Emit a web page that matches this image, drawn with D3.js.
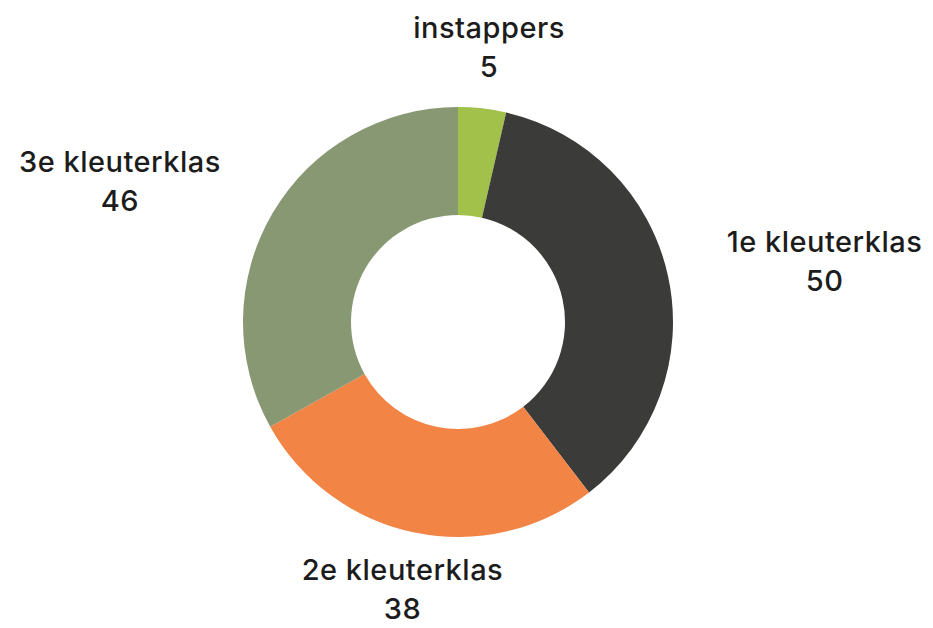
<!DOCTYPE html>
<html>
<head>
<meta charset="utf-8">
<script src="https://cdn.jsdelivr.net/npm/d3@7"></script>
<style>
  body { margin: 0; background: #fff; }
  .lbl { font-family: Inter, "Noto Sans", sans-serif; font-size: 29px; font-weight: 500; fill: #1c1c1c; letter-spacing: 0.5px; }
</style>
</head>
<body>
<div id="chart"></div>
<script>
(function () {
	"use strict";

	var categories = ["instappers", "1e kleuterklas", "2e kleuterklas", "3e kleuterklas"],
		values = [5, 50, 38, 46],
		colors = ["#a2c14a", "#3b3b39", "#f28446", "#879873"];

	var width = 933,
		height = 628,
		cx = 458,
		cy = 322,
		outerR = 215,
		innerR = 107,
		labelR = 275,
		lineGap = 39;

	var svg = d3.select("#chart").append("svg")
		.attr("width", width)
		.attr("height", height);

	var g = svg.append("g").attr("transform", "translate(" + cx + "," + cy + ")");

	var pie = d3.pie().sort(null).value(function (d) { return d.value; });
	var data = categories.map(function (c, i) { return { name: c, value: values[i], color: colors[i] }; });
	var arcs = pie(data);

	var arc = d3.arc().innerRadius(innerR).outerRadius(outerR);

	g.selectAll("path.slice")
		.data(arcs)
		.enter().append("path")
		.attr("class", "slice")
		.attr("d", arc)
		.attr("fill", function (d) { return d.data.color; });

	// labels sit on a circle at the slice's mid angle; side labels hang off it
	var labelArc = d3.arc().innerRadius(labelR).outerRadius(labelR);

	var labels = g.selectAll("g.label")
		.data(arcs)
		.enter().append("g")
		.attr("class", "label");

	labels.each(function (d) {
		var grp = d3.select(this),
			p = labelArc.centroid(d),
			mid = (d.startAngle + d.endAngle) / 2,
			s = Math.sin(mid),
			anchor = s > 0.5 ? "start" : (s < -0.5 ? "end" : "middle");
		var t1 = grp.append("text").attr("class", "lbl").attr("text-anchor", anchor).text(d.data.name);
		var t2 = grp.append("text").attr("class", "lbl").attr("text-anchor", "middle").text(d.data.value);
		var w = t1.node().getComputedTextLength(),
			mx = anchor === "start" ? p[0] + w / 2 : (anchor === "end" ? p[0] - w / 2 : p[0]);
		t1.attr("x", p[0]).attr("y", p[1] - 11);
		t2.attr("x", mx).attr("y", p[1] - 11 + lineGap);
	});
})();
</script>
</body>
</html>
